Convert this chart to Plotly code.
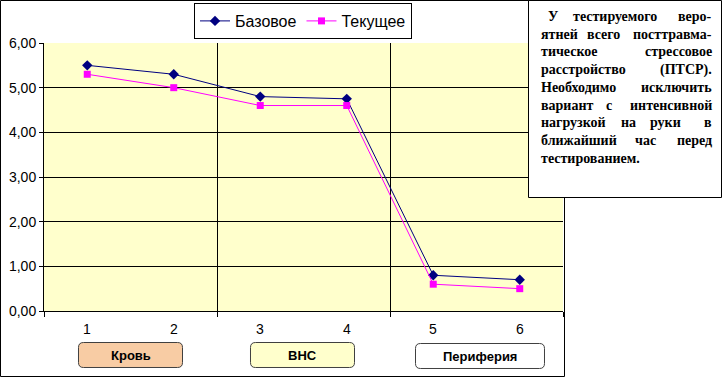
import plotly.graph_objects as go

categories = [1, 2, 3, 4, 5, 6]
base_values = [5.5, 5.3, 4.8, 4.75, 0.8, 0.7]
current_values = [5.3, 5.0, 4.6, 4.6, 0.6, 0.5]
series_names = ["Базовое", "Текущее"]
group_labels = ["Кровь", "ВНС", "Периферия"]
y_ticks = [0, 1, 2, 3, 4, 5, 6]
note_lines = [
    ["У", "тестируемого", "веро-"],
    ["ятней", "всего", "посттравма-"],
    ["тическое", "стрессовое"],
    ["расстройство", "(ПТСР)."],
    ["Необходимо", "исключить"],
    ["вариант", "с", "интенсивной"],
    ["нагрузкой", "на", "руки", "в"],
    ["ближайший", "час", "перед"],
    ["тестированием."],
]

W, H = 722, 377
L, R, T, B = 44, 563, 43, 311


def px(x):
    return (x - L) / (R - L)


def py(y):
    return (B - y) / (B - T)


def rounded(x0, y0, x1, y1, r=5):
    pts = [
        ("M", x0 + r, y0), ("L", x1 - r, y0), ("Q", x1, y0, x1, y0 + r),
        ("L", x1, y1 - r), ("Q", x1, y1, x1 - r, y1), ("L", x0 + r, y1),
        ("Q", x0, y1, x0, y1 - r), ("L", x0, y0 + r), ("Q", x0, y0, x0 + r, y0),
    ]
    s = ""
    for p in pts:
        if p[0] == "Q":
            s += f"Q{px(p[1]):.5f},{py(p[2]):.5f} {px(p[3]):.5f},{py(p[4]):.5f} "
        else:
            s += f"{p[0]}{px(p[1]):.5f},{py(p[2]):.5f} "
    return s + "Z"


fig = go.Figure()
fig.add_trace(go.Scatter(
    x=categories, y=base_values, name=series_names[0], mode="lines+markers",
    line=dict(color="#000080", width=1),
    marker=dict(symbol="diamond", size=8, color="#000080"),
))
fig.add_trace(go.Scatter(
    x=categories, y=current_values, name=series_names[1], mode="lines+markers",
    line=dict(color="#FF00FF", width=1),
    marker=dict(symbol="square", size=7, color="#FF00FF"),
))

shapes = []
# outer chart frame
shapes.append(dict(type="rect", xref="paper", yref="paper",
                   x0=px(0.5), x1=px(564.5), y0=py(0.5), y1=py(376.5),
                   line=dict(color="black", width=1), layer="below"))
# group buttons
btns = [
    (78.5, 342.5, 182.5, 367.5, "#F8CCA4"),
    (250.5, 342.5, 354.5, 367.5, "#FFFFCC"),
    (415.5, 343.5, 544.5, 368.5, "#FFFFFF"),
]
annotations = []
for (x0, y0, x1, y1, fill), lab in zip(btns, group_labels):
    shapes.append(dict(type="path", xref="paper", yref="paper",
                       path=rounded(x0, y0, x1, y1), fillcolor=fill,
                       line=dict(color="#404040", width=1), layer="above"))
    annotations.append(dict(xref="paper", yref="paper", x=px((x0 + x1) / 2),
                            y=py((y0 + y1) / 2), text=f"<b>{lab}</b>",
                            showarrow=False, xanchor="center", yanchor="middle",
                            font=dict(family="Arial, Liberation Sans", size=13, color="black")))
# note box
shapes.append(dict(type="rect", xref="paper", yref="paper",
                   x0=px(528.5), x1=px(721.5), y0=py(0.5), y1=py(197.5),
                   fillcolor="white", line=dict(color="black", width=1), layer="above"))

# category labels under axis
for c in categories:
    annotations.append(dict(xref="x", yref="paper", x=c, y=py(329), text=str(c),
                            showarrow=False, xanchor="center", yanchor="middle",
                            font=dict(family="Arial, Liberation Sans", size=14, color="black")))

# justified note text
left_x, right_x = 539, 714
mid_pos = {
    (0, 0): 553, (0, 1): 615, (1, 1): 603, (5, 1): 609,
    (6, 1): 628, (6, 2): 665, (7, 1): 645,
}
line_y0, line_dy = 16.5, 17.7
nfont = dict(family="Liberation Serif, Times New Roman, serif", size=14, color="black")
for i, words in enumerate(note_lines):
    yy = py(line_y0 + i * line_dy)
    n = len(words)
    for j, w in enumerate(words):
        if (i, j) in mid_pos:
            xx, anc = mid_pos[(i, j)], "center"
        elif j == 0:
            xx, anc = left_x, "left"
        elif j == n - 1:
            xx, anc = right_x, "right"
        else:
            xx, anc = (left_x + right_x) / 2, "center"
        annotations.append(dict(xref="paper", yref="paper", x=px(xx), y=yy,
                                text=f"<b>{w}</b>", showarrow=False, xanchor=anc,
                                yanchor="middle", font=nfont))

fig.update_layout(
    width=W, height=H,
    margin=dict(l=L, r=W - R, t=T, b=H - B, pad=0, autoexpand=False),
    paper_bgcolor="white", plot_bgcolor="#FFFFCC",
    separators=", ",
    font=dict(family="Arial, Liberation Sans", size=13, color="black"),
    showlegend=True,
    legend=dict(orientation="h", x=px(194), y=py(3), xanchor="left", yanchor="top",
                bgcolor="white", bordercolor="black", borderwidth=1,
                font=dict(family="Arial, Liberation Sans", size=16, color="black"),
                itemwidth=30, tracegroupgap=0),
    xaxis=dict(range=[0.5, 6.5], tickvals=[0.5, 2.5, 4.5, 6.5], showticklabels=False,
               ticks="outside", ticklen=5, tickcolor="black", showgrid=True,
               gridcolor="black", gridwidth=1, showline=True, linecolor="black",
               linewidth=1, zeroline=False, fixedrange=True),
    yaxis=dict(range=[0, 6], tickvals=y_ticks, tickformat=".2f", ticks="outside",
               ticklen=4, tickcolor="black", showgrid=True, gridcolor="black",
               gridwidth=1, showline=True, linecolor="black", linewidth=1,
               zeroline=False, tickfont=dict(size=14), fixedrange=True),
    shapes=shapes, annotations=annotations,
)

fig.write_html("out.html", config={"displayModeBar": False},
               post_script="document.body.style.margin='0px';document.body.style.overflow='hidden';")
